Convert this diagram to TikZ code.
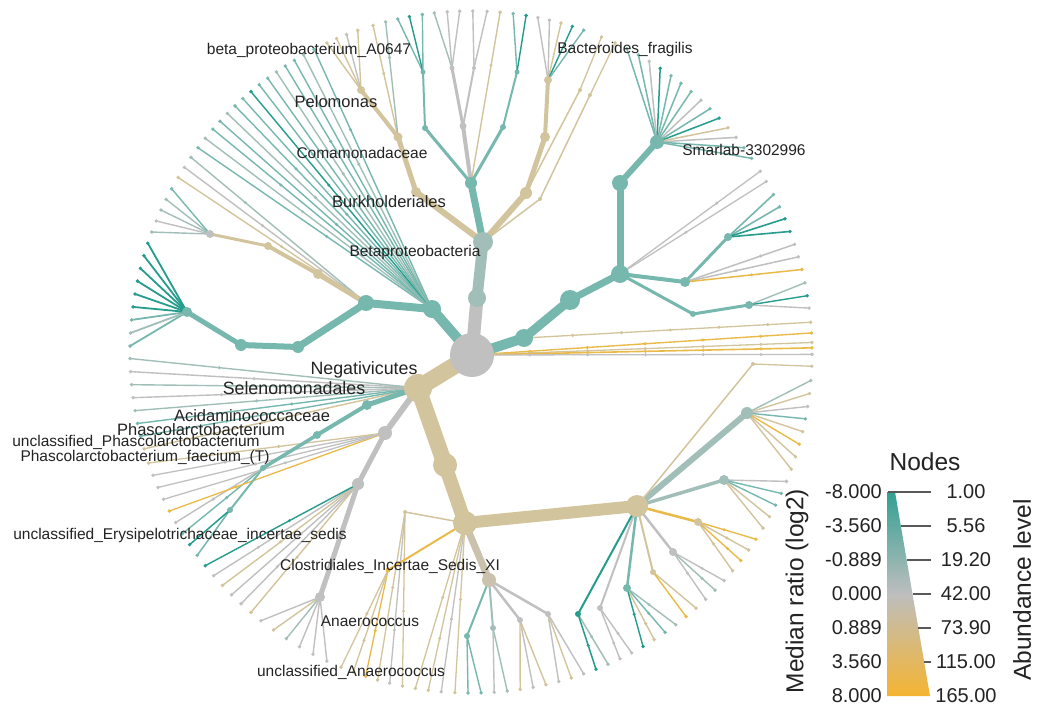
\documentclass[tikz,border=0pt]{standalone}
\usepackage{fontspec}
\setmainfont{Liberation Sans}
\usetikzlibrary{calc}
\definecolor{cTD}{RGB}{38,156,140}
\definecolor{cT}{RGB}{118,184,174}
\definecolor{cTG}{RGB}{162,190,184}
\definecolor{cG}{RGB}{192,192,192}
\definecolor{cN}{RGB}{210,196,156}
\definecolor{cY}{RGB}{234,186,72}
\definecolor{cNG}{RGB}{202,194,172}
\definecolor{txt}{RGB}{35,35,35}
\definecolor{legT}{RGB}{45,160,145}
\definecolor{legG}{RGB}{190,190,190}
\definecolor{legY}{RGB}{246,180,45}
\newcounter{lfc}
\newcommand\leafx[4]{%
  \stepcounter{lfc}%
  \coordinate (lf\arabic{lfc}) at ($(C)+(#2:341)$);%
  \draw[color=#3, line width=#4, line cap=round] (#1) -- (lf\arabic{lfc});%
  \fill[#3] (lf\arabic{lfc}) circle (1.9pt);%
}
\newcommand\leafm[4]{%
  \leafx{#1}{#2}{#3}{#4}%
  \pgfmathsetmacro\mp{0.45+0.12*mod(\arabic{lfc},3)}%
  \fill[#3] ($(#1)!\mp!(lf\arabic{lfc})$) circle (1.7pt);%
}
\newcommand\leafd[4]{%
  \leafx{#1}{#2}{#3}{#4}%
  \foreach \q in {0.17,0.34,0.51,0.68,0.85}{\fill[#3] ($(#1)!\q!(lf\arabic{lfc})$) circle (1.7pt);}%
}
\newcommand\fan[3]{\foreach \a/\c in {#2}{\leafx{#1}{\a}{\c}{#3}}}
\newcommand\fanm[3]{\foreach \a/\c in {#2}{\leafm{#1}{\a}{\c}{#3}}}
\newcommand\edg[4]{\draw[color=#3, line width=#4, line cap=round] (#1) -- (#2);}
\newcommand\inod[3]{\node[circle, fill=#2, draw=none, inner sep=0pt, minimum size=#3] (n#1) at (#1) {};}
\begin{document}
\begin{tikzpicture}[x=1pt,y=-1pt,
  lbl/.style={text=txt, inner sep=0pt, font=\fontsize{15.5}{18}\selectfont},
  lblm/.style={text=txt, inner sep=0pt, font=\fontsize{16.5}{19}\selectfont},
  lblb/.style={text=txt, inner sep=0pt, font=\fontsize{17.8}{20}\selectfont},
  legnum/.style={text=txt, inner sep=0pt, font=\fontsize{20}{22}\selectfont},
  legtitle/.style={text=txt, inner sep=0pt, font=\fontsize{24.5}{27}\selectfont},
  tickline/.style={draw=black!65, line width=1.4pt}]
\useasboundingbox (0,0) rectangle (1038,708);
\fill[white] (0,0) rectangle (1038,708);
% ---------- coordinates of the tree ----------
\coordinate (C) at (471,352);
\coordinate (Root) at (472,355);
\coordinate (B1) at (477,298);
\coordinate (Beta) at (483,242);
\coordinate (Burk) at (416,192);
\coordinate (Coma) at (398,137);
\coordinate (Pelo) at (361,90);
\coordinate (Tc) at (471,183);
\coordinate (Tt) at (425,128);
\coordinate (Tt2) at (423,72);
\coordinate (Tg) at (463,126);
\coordinate (Tg2) at (452,68);
\coordinate (Tg3) at (474,68);
\coordinate (Tr) at (503,127);
\coordinate (Tr2) at (517,72);
\coordinate (Bt1) at (526,193);
\coordinate (Bt2) at (545,137);
\coordinate (Bt3) at (548,80);
\coordinate (Bt4) at (580,90);
\coordinate (Bs1) at (540,199);
\coordinate (Bs2) at (590,95);
\coordinate (Ra) at (524,338);
\coordinate (Rb2) at (570,300);
\coordinate (R3) at (620,274);
\coordinate (Sm1) at (620,183);
\coordinate (Sm2) at (657,142);
\coordinate (Rm) at (685,282);
\coordinate (Rt) at (728,237);
\coordinate (Rbx) at (693,314);
\coordinate (Rb) at (749,305);
\coordinate (Ng) at (418,388);
\coordinate (Ck1) at (445,465);
\coordinate (Ck) at (465,523);
\coordinate (Ch) at (637,506);
\coordinate (Cl) at (489,580);
\coordinate (Gr1) at (385,433);
\coordinate (Gr2) at (358,484);
\coordinate (An) at (320,597);
\coordinate (Ac) at (367,405);
\coordinate (Ph) at (317,435);
\coordinate (Pf) at (263,468);
\coordinate (Pf2) at (230,510);
\coordinate (Rg) at (747,413);
\coordinate (Rt2) at (724,480);
\coordinate (Rt3) at (698,522);
\coordinate (Rt4) at (673,552);
\coordinate (Rt5) at (653,572);
\coordinate (Rt6) at (627,588);
\coordinate (Rt7) at (600,608);
\coordinate (Rt8) at (578,614);
\coordinate (Cs1) at (467,636);
\coordinate (Cs2) at (493,628);
\coordinate (Cs3) at (520,620);
\coordinate (Cs4) at (548,614);
\coordinate (Ks1) at (388,570);
\coordinate (Ks2) at (405,512);
\coordinate (Cht) at (753,364);
\coordinate (L1) at (432,309);
\coordinate (L2) at (366,303);
\coordinate (L3) at (298,347);
\coordinate (L4) at (241,345);
\coordinate (L5) at (187,312);
\coordinate (Lt1) at (318,274);
\coordinate (Lt2) at (268,246);
\coordinate (Lt3) at (210,234);
% ---------- leaves ----------
\fan{L5}{181/cT,183.2/cTG,185.4/cT,187.6/cTD,189.8/cTD,192/cTD,194.2/cTD,196.4/cTD,198.6/cTD}{1.8pt}
\fan{Lt3}{200.6/cTG,202.6/cG,204.6/cTG,206.6/cTG,208.6/cT}{1.4pt}
\fanm{L2}{210.8/cN,212.8/cG,214.8/cTG}{1.4pt}
\fanm{L1}{216.8/cT,218.8/cTG,220.8/cT,222.6/cT,224.4/cTG,226.2/cT,228/cT,229.8/cTD,231.6/cT,233.4/cT,235.2/cTG,237/cT,238.8/cT,240.6/cTG,242.6/cT}{1.4pt}
\fan{Pelo}{245/cN,246.8/cN,248.6/cG,250.6/cN}{1.4pt}
\fanm{Coma}{253.3/cN,255.5/cTG}{1.4pt}
\fan{Tt2}{257.6/cT,259.6/cTD,261.8/cT}{1.4pt}
\fan{Tg2}{263.8/cTG,266/cG,268.1/cG}{1.4pt}
\fan{Tg3}{270.3/cG,272.7/cG}{1.4pt}
\fanm{Tc}{274.9/cN}{1.4pt}
\fan{Tr2}{277.1/cT,279.3/cTD}{1.4pt}
\fan{Bt3}{281.3/cG,283.3/cG,285.3/cN,287.3/cTD,289.3/cT}{1.4pt}
\fan{Bt4}{292.5/cN}{1.3pt}
\fan{Bs2}{295/cN}{1.3pt}
\fan{Sm2}{297.2/cT,299.4/cT,301.5/cG,303.7/cTD,305.9/cT,308/cT,310.2/cT,312.4/cG,314.5/cT,316.7/cTD,318.9/cN,321/cG,323.2/cT,325.4/cT}{1.5pt}
\fanm{R3}{328/cG,330/cG}{1.3pt}
\fan{Rt}{332.5/cT,334.8/cT,337/cTD,339.3/cTD}{1.6pt}
\fanm{Rm}{341.6/cG,343.8/cG,346/cY}{1.5pt}
\fan{Rb}{348.3/cTG,350.5/cTD,352.6/cG}{1.4pt}
\leafd{Ra}{355}{cN}{1.3pt}
\leafd{Root}{356.8}{cY}{1.4pt}
\leafd{Root}{358.4}{cN}{1.3pt}
\leafd{Root}{359.3}{cY}{1.6pt}
\leafd{Root}{0.4}{cG}{1.3pt}
\fan{Cht}{2.4/cN}{1.3pt}
\fan{Rg}{4.8/cTG,7/cN,9.2/cG,11.3/cT,13.5/cN,15.7/cY,17.9/cN,20.1/cN}{1.4pt}
\fan{Rt2}{22.3/cG,24.5/cT,26.7/cT,28.9/cN,31.1/cN}{1.4pt}
\fanm{Rt3}{33.3/cY,35.5/cN,37.7/cY,39.9/cN}{1.4pt}
\fanm{Rt4}{42.1/cG,44.3/cTG,46.5/cG}{1.4pt}
\fan{Rt5}{48.7/cN,50.9/cY}{1.4pt}
\fanm{Rt6}{53.1/cTG,55.3/cT,57.5/cN,59.7/cTD}{1.4pt}
\fanm{Rt7}{61.9/cG,64.1/cG}{1.4pt}
\fanm{Rt8}{66.3/cTG,68.5/cTD}{1.5pt}
\fan{Cs4}{70.7/cG,72.9/cN,75.1/cG}{1.4pt}
\fan{Cs3}{77.3/cN,79.5/cG,81.7/cN}{1.4pt}
\fan{Cs2}{83.9/cTG,86.1/cG}{1.4pt}
\fan{Cs1}{88.3/cT,90.5/cT}{1.4pt}
\fanm{Ck}{92.7/cN,95/cG,97.2/cN,99.4/cN}{1.3pt}
\fanm{Ks2}{101.6/cN,103.8/cG,105.9/cN}{1.3pt}
\fanm{Ks1}{108/cY,110.2/cN,112.4/cN}{1.3pt}
\fan{An}{115/cG,117.6/cG,120.2/cG,122.8/cTG,125.4/cN,128/cG}{1.4pt}
\fanm{Gr2}{130.2/cN,132.4/cG,134.6/cG,136.8/cN,139/cG,141.2/cTD}{1.4pt}
\fan{Pf2}{143.4/cT,145.6/cTD}{1.5pt}
\fanm{Pf}{147.8/cT,150/cG}{1.4pt}
\fanm{Gr1}{152.2/cY,154.4/cG,156.6/cG,158.8/cG,161/cN}{1.3pt}
\fanm{Ng}{163.5/cN,165.7/cT,167.9/cT,170.1/cTG,172.3/cG,174.5/cTG,176.7/cG,178.9/cTG}{1.4pt}
% ---------- internal edges ----------
\edg{Root}{B1}{cG}{13pt}
\edg{B1}{Beta}{cTG}{11pt}
\edg{Beta}{Burk}{cN}{6pt}
\edg{Burk}{Coma}{cN}{5pt}
\edg{Coma}{Pelo}{cN}{4pt}
\edg{Beta}{Tc}{cT}{7pt}
\edg{Tc}{Tt}{cT}{3pt}
\edg{Tt}{Tt2}{cT}{2pt}
\edg{Tc}{Tg}{cG}{4pt}
\edg{Tg}{Tg2}{cG}{3pt}
\edg{Tg}{Tg3}{cG}{2pt}
\edg{Tc}{Tr}{cT}{3pt}
\edg{Tr}{Tr2}{cT}{2pt}
\edg{Beta}{Bt1}{cN}{6pt}
\edg{Bt1}{Bt2}{cN}{5pt}
\edg{Bt2}{Bt3}{cN}{4pt}
\edg{Bt1}{Bt4}{cN}{1.5pt}
\edg{Beta}{Bs1}{cN}{1.5pt}
\edg{Bs1}{Bs2}{cN}{1.5pt}
\edg{Root}{Ra}{cT}{10pt}
\edg{Ra}{Rb2}{cT}{9pt}
\edg{Rb2}{R3}{cT}{7pt}
\edg{R3}{Sm1}{cT}{7pt}
\edg{Sm1}{Sm2}{cT}{6pt}
\edg{R3}{Rm}{cT}{4pt}
\edg{Rm}{Rt}{cT}{3pt}
\edg{R3}{Rbx}{cT}{3pt}
\edg{Rbx}{Rb}{cT}{3pt}
\edg{Root}{L1}{cT}{10pt}
\edg{L1}{L2}{cT}{8pt}
\edg{L2}{L3}{cT}{7pt}
\edg{L3}{L4}{cT}{6pt}
\edg{L4}{L5}{cT}{5pt}
\edg{L2}{Lt1}{cN}{5pt}
\edg{Lt1}{Lt2}{cN}{4pt}
\edg{Lt2}{Lt3}{cN}{3pt}
\edg{Root}{Ng}{cN}{17pt}
\edg{Ng}{Ck1}{cN}{16pt}
\edg{Ck1}{Ck}{cN}{14pt}
\edg{Ck}{Ch}{cN}{12pt}
\edg{Ck}{Cl}{cNG}{7pt}
\edg{Ng}{Gr1}{cG}{6pt}
\edg{Gr1}{Gr2}{cG}{5pt}
\edg{Gr2}{An}{cG}{5pt}
\edg{Ng}{Ac}{cT}{5pt}
\edg{Ac}{Ph}{cT}{4pt}
\edg{Ph}{Pf}{cT}{3.5pt}
\edg{Pf}{Pf2}{cT}{2pt}
\edg{Ch}{Rg}{cTG}{6pt}
\edg{Ch}{Rt2}{cTG}{3.5pt}
\edg{Ch}{Rt3}{cY}{2.5pt}
\edg{Ch}{Rt4}{cG}{2.5pt}
\edg{Ch}{Rt5}{cN}{2pt}
\edg{Ch}{Rt6}{cT}{2.5pt}
\edg{Ch}{Rt7}{cG}{2pt}
\edg{Ch}{Rt8}{cTD}{2pt}
\edg{Ch}{Cht}{cN}{1.5pt}
\edg{Cl}{Cs1}{cT}{2pt}
\edg{Cl}{Cs2}{cTG}{2pt}
\edg{Cl}{Cs3}{cG}{2.5pt}
\edg{Cl}{Cs4}{cG}{2.5pt}
\edg{Ck}{Ks1}{cY}{2pt}
\edg{Ck}{Ks2}{cN}{1.5pt}
% ---------- internal nodes ----------
\inod{Root}{cG}{44pt}
\inod{B1}{cTG}{18pt}
\inod{Beta}{cTG}{20pt}
\inod{Burk}{cN}{10pt}
\inod{Coma}{cN}{9pt}
\inod{Pelo}{cN}{8pt}
\inod{Tc}{cT}{12pt}
\inod{Tt}{cT}{6pt}
\inod{Tt2}{cT}{5pt}
\inod{Tg}{cG}{7pt}
\inod{Tg2}{cG}{5pt}
\inod{Tg3}{cG}{4pt}
\inod{Tr}{cT}{6pt}
\inod{Tr2}{cT}{5pt}
\inod{Bt1}{cN}{12pt}
\inod{Bt2}{cN}{10pt}
\inod{Bt3}{cN}{8pt}
\inod{Bt4}{cN}{4pt}
\inod{Bs1}{cN}{4pt}
\inod{Bs2}{cN}{4pt}
\inod{Ra}{cT}{18pt}
\inod{Rb2}{cT}{20pt}
\inod{R3}{cT}{18pt}
\inod{Sm1}{cT}{16pt}
\inod{Sm2}{cT}{14pt}
\inod{Rm}{cT}{10pt}
\inod{Rt}{cT}{8pt}
\inod{Rbx}{cT}{6pt}
\inod{Rb}{cT}{8pt}
\inod{L1}{cT}{18pt}
\inod{L2}{cT}{16pt}
\inod{L3}{cT}{12pt}
\inod{L4}{cT}{12pt}
\inod{L5}{cT}{10pt}
\inod{Lt1}{cN}{10pt}
\inod{Lt2}{cN}{8pt}
\inod{Lt3}{cG}{8pt}
\inod{Ng}{cN}{28pt}
\inod{Ck1}{cN}{24pt}
\inod{Ck}{cN}{24pt}
\inod{Ch}{cN}{22pt}
\inod{Cl}{cNG}{14pt}
\inod{Gr1}{cG}{14pt}
\inod{Gr2}{cG}{12pt}
\inod{An}{cG}{10pt}
\inod{Ac}{cT}{10pt}
\inod{Ph}{cT}{8pt}
\inod{Pf}{cT}{6pt}
\inod{Pf2}{cT}{6pt}
\inod{Rg}{cTG}{12pt}
\inod{Rt2}{cTG}{10pt}
\inod{Rt3}{cN}{8pt}
\inod{Rt4}{cG}{8pt}
\inod{Rt5}{cN}{6pt}
\inod{Rt6}{cT}{8pt}
\inod{Rt7}{cG}{6pt}
\inod{Rt8}{cTD}{6pt}
\inod{Cs1}{cT}{6pt}
\inod{Cs2}{cTG}{6pt}
\inod{Cs3}{cG}{6pt}
\inod{Cs4}{cG}{6pt}
\inod{Ks1}{cY}{5pt}
\inod{Ks2}{cN}{4pt}
\inod{Cht}{cN}{4pt}
% ---------- labels ----------
\node[lbl] (tBeta) at (309,50) {beta\_proteobacterium\_A0647};
\node[lblm] (tPelo) at (336,102) {Pelomonas};
\node[lbl] (tComa) at (362,153) {Comamonadaceae};
\node[lblm] (tBurk) at (389,202) {Burkholderiales};
\node[lbl] (tBetap) at (415,252) {Betaproteobacteria};
\node[lbl] (tBact) at (625,49) {Bacteroides\_fragilis};
\node[lbl] (tSmar) at (744,150) {Smarlab-3302996};
\node[lblb] (tNeg) at (364,370) {Negativicutes};
\node[lblb] (tSel) at (294,388) {Selenomonadales};
\node[lblm] (tAci) at (252,416) {Acidaminococcaceae};
\node[lblm] (tPha) at (201,430) {Phascolarctobacterium};
\node[lbl] (tuPha) at (136,442) {unclassified\_Phascolarctobacterium};
\node[lbl] (tPhf) at (145,457) {Phascolarctobacterium\_faecium\_(T)};
\node[lbl] (tEry) at (180,535) {unclassified\_Erysipelotrichaceae\_incertae\_sedis};
\node[lbl] (tClo) at (390,566) {Clostridiales\_Incertae\_Sedis\_XI};
\node[lbl] (tAna) at (370,621) {Anaerococcus};
\node[lbl] (tuAna) at (351,672) {unclassified\_Anaerococcus};
% ---------- legend ----------
\node[legtitle] (legNodes) at (925,462) {Nodes};
\begin{scope}
\clip (887,492) -- (895,492) -- (930,696) -- (887,696) -- cycle;
\shade[top color=legT, bottom color=legG] (884,489) rectangle (933,594);
\shade[top color=legG, bottom color=legY] (884,594) rectangle (933,699);
\end{scope}
\coordinate (tk0) at (888,492);
\coordinate (tk1) at (901,526);
\coordinate (tk2) at (907,560);
\coordinate (tk3) at (913,594);
\coordinate (tk4) at (918,628);
\coordinate (tk5) at (924,662);
\coordinate (te0) at (931,492);
\coordinate (te1) at (931,526);
\coordinate (te2) at (931,560);
\coordinate (te3) at (931,594);
\coordinate (te4) at (931,628);
\coordinate (te5) at (931,662);
\foreach \i in {0,...,5}{\draw[tickline] (tk\i) -- (te\i);}
\foreach \y/\l/\r in {492/-8.000/1.00, 526/-3.560/5.56, 560/-0.889/19.20, 594/0.000/42.00, 628/0.889/73.90, 662/3.560/115.00, 696/8.000/165.00}{
  \node[legnum, anchor=east] (ll\y) at (882,\y) {\l};
  \node[legnum] (lr\y) at (966,\y) {\r};
}
\node[legtitle, rotate=90] (legMed) at (797,591) {Median ratio (log2)};
\node[legtitle, rotate=90] (legAb) at (1022,590) {Abundance level};
\end{tikzpicture}
\end{document}
